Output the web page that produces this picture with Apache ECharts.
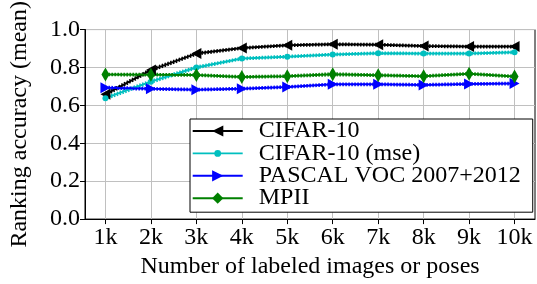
<!DOCTYPE html>
<html><head><meta charset="utf-8">
<script src="https://cdn.jsdelivr.net/npm/echarts@6/dist/echarts.min.js"></script>
<style>html,body{margin:0;padding:0;background:#fff;overflow:hidden}
#c{width:537px;height:284px}</style>
</head><body><div id="c"></div>
<script>
const xValues = [1,2,3,4,5,6,7,8,9,10];
const xTickLabels = ['1k','2k','3k','4k','5k','6k','7k','8k','9k','10k'];
const yTicks = [0.0,0.2,0.4,0.6,0.8,1.0];
const seriesNames = ['CIFAR-10','CIFAR-10 (mse)','PASCAL VOC 2007+2012','MPII'];
const cifar = [0.658,0.786,0.873,0.902,0.917,0.922,0.920,0.913,0.910,0.910];
const cifarUp = [0.665,0.793,0.879,0.907,0.922,0.927,0.925,0.918,0.915,0.915];
const cifarLo = [0.651,0.779,0.867,0.897,0.912,0.917,0.915,0.908,0.905,0.905];
const cifarMse = [0.638,0.725,0.800,0.847,0.857,0.868,0.875,0.873,0.873,0.880];
const cifarMseUp = [0.645,0.732,0.806,0.852,0.862,0.873,0.880,0.878,0.878,0.885];
const cifarMseLo = [0.631,0.718,0.794,0.842,0.852,0.863,0.870,0.868,0.868,0.875];
const pascal = [0.693,0.687,0.683,0.688,0.697,0.711,0.711,0.708,0.713,0.715];
const pascalUp = [0.699,0.692,0.688,0.693,0.702,0.716,0.716,0.713,0.718,0.720];
const pascalLo = [0.687,0.682,0.678,0.683,0.692,0.706,0.706,0.703,0.708,0.710];
const mpii = [0.763,0.762,0.760,0.750,0.754,0.764,0.759,0.754,0.767,0.752];
const mpiiUp = [0.768,0.767,0.765,0.755,0.759,0.770,0.764,0.759,0.772,0.757];
const mpiiLo = [0.758,0.757,0.755,0.745,0.749,0.758,0.754,0.749,0.762,0.747];

const FONT = 'Liberation Serif';
const FS = 24;
const pts = arr => arr.map((v,i)=>[xValues[i], v]);
function mainSeries(name, data, color, symbol, size, rotate){
  return {name, type:'line', data:pts(data), color, symbol, symbolSize:size, symbolRotate:rotate||0,
    lineStyle:{width:2,color}, itemStyle:{color}, z:5, animation:false};
}
function bandSeries(name, data, color){
  return {name:name+'_band', type:'line', data:pts(data), symbol:'none', silent:true,
    lineStyle:{width:1.8,color,type:[1.5,1.5]}, z:4, animation:false};
}
// legend icon for the small-dot series: line with a small dot (bbox fixed to 50x14)
const dotLineIcon = 'path://M0,0h0.01v0.01h-0.01z M49.99,14h0.01v-0.01h-0.01z M0,6.1h50v1.8h-50z M21.6,7a3.4,3.4 0 1,1 6.8,0a3.4,3.4 0 1,1 -6.8,0z';
const chart = echarts.init(document.getElementById('c'), null, {renderer:'canvas'});
chart.setOption({
  animation:false,
  textStyle:{fontFamily:FONT},
  grid:{left:82, right:2, top:23, bottom:61, show:true, borderColor:'#000', borderWidth:1, backgroundColor:'transparent'},
  xAxis:{type:'value', min:0.55, max:10.45,
    name:'Number of labeled images or poses', nameLocation:'middle', nameGap:35,
    nameTextStyle:{fontFamily:FONT, fontSize:FS, color:'#000'},
    axisLine:{show:true, onZero:false, lineStyle:{color:'#000', width:1}},
    axisTick:{show:true, inside:false, length:5, customValues:xValues, lineStyle:{color:'#000'}},
    axisLabel:{customValues:xValues, formatter:v=>xTickLabels[xValues.indexOf(Math.round(v))], fontFamily:FONT, fontSize:FS, color:'#000', margin:7},
    splitLine:{show:true, lineStyle:{color:'#c0c0c0', width:1}}
  },
  yAxis:{type:'value', min:0, max:1, interval:0.2,
    name:'Ranking accuracy (mean)', nameLocation:'middle', nameGap:53, nameRotate:90,
    nameTextStyle:{fontFamily:FONT, fontSize:FS, color:'#000'},
    axisLine:{show:true, lineStyle:{color:'#000', width:1}},
    axisTick:{show:true, inside:false, length:5, lineStyle:{color:'#000'}},
    axisLabel:{formatter:v=>{const t=yTicks.find(x=>Math.abs(x-v)<1e-6); return (t===undefined?v:t).toFixed(1);}, fontFamily:FONT, fontSize:FS, color:'#000', margin:5},
    splitLine:{show:true, lineStyle:{color:'#c0c0c0', width:1}}
  },
  legend:{data:[seriesNames[0], {name:seriesNames[1], icon:dotLineIcon}, seriesNames[2], seriesNames[3]],
    orient:'vertical', left:190, top:119,
    backgroundColor:'#fff', borderColor:'#000', borderWidth:1, borderRadius:0,
    padding:[0,12,2,1.7], itemWidth:50, itemHeight:14, itemGap:-1.6,
    textStyle:{fontFamily:FONT, fontSize:FS, color:'#000', padding:[0,0,0,11]},
    z:10
  },
  series:[
    bandSeries('CIFAR-10', cifarUp, '#000'), bandSeries('CIFAR-10', cifarLo, '#000'),
    bandSeries('CIFAR-10 (mse)', cifarMseUp, '#00bfbf'), bandSeries('CIFAR-10 (mse)', cifarMseLo, '#00bfbf'),
    bandSeries('PASCAL', pascalUp, '#0000ff'), bandSeries('PASCAL', pascalLo, '#0000ff'),
    bandSeries('MPII', mpiiUp, '#008000'), bandSeries('MPII', mpiiLo, '#008000'),
    mainSeries(seriesNames[0], cifar, '#000000', 'triangle', [11,10], 90),
    mainSeries(seriesNames[1], cifarMse, '#00bfbf', 'circle', 6, 0),
    mainSeries(seriesNames[2], pascal, '#0000ff', 'triangle', [11,10], -90),
    mainSeries(seriesNames[3], mpii, '#008000', 'diamond', [8,14], 0)
  ]
});
</script></body></html>
